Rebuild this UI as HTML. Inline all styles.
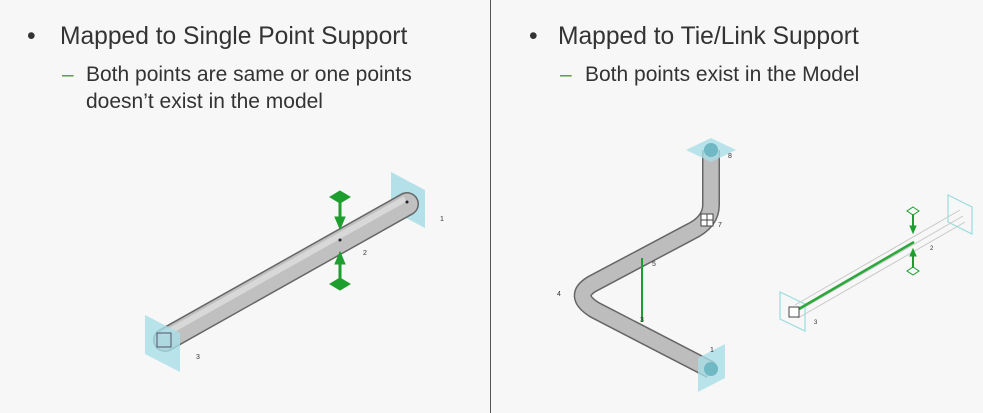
<!DOCTYPE html><html><head><style>
body{margin:0;width:983px;height:413px;background:#f7f7f7;overflow:hidden;font-family:"Liberation Sans",sans-serif;color:#333;position:relative}
.t{position:absolute;white-space:nowrap}
.h{font-size:24.6px}
.s{font-size:21px}
.d{color:#5a9a3a}
</style></head><body>
<div style="position:absolute;left:490px;top:0;width:1px;height:413px;background:#555"></div>
<div class="t h" style="left:27px;top:23px">•</div>
<div class="t h" style="left:60px;top:23px">Mapped to Single Point Support</div>
<div class="t s d" style="left:62px;top:63px">–</div>
<div class="t s" style="left:86px;top:63px">Both points are same or one points</div>
<div class="t s" style="left:86px;top:90px">doesn’t exist in the model</div>
<div class="t h" style="left:529px;top:23px">•</div>
<div class="t h" style="left:558px;top:23px">Mapped to Tie/Link Support</div>
<div class="t s d" style="left:560px;top:63px">–</div>
<div class="t s" style="left:585px;top:63px">Both points exist in the Model</div>
<svg width="983" height="413" style="position:absolute;left:0;top:0">
<polygon points="391,172 425,190 425,228 391,210" fill="#a8dde6" opacity="0.85"/>
<line x1="165" y1="340" x2="407" y2="204" stroke="#666" stroke-width="24" stroke-linecap="round"/>
<line x1="165" y1="340" x2="407" y2="204" stroke="#c0c0c0" stroke-width="21" stroke-linecap="round"/>
<line x1="163" y1="335" x2="405" y2="199" stroke="#d8d8d8" stroke-width="6"/>
<polygon points="145,315 180,333 180,372 145,354" fill="#a8dde6" opacity="0.8"/>
<rect x="157" y="333" width="14" height="14" fill="none" stroke="#556" stroke-width="1"/>
<circle cx="407" cy="202" r="1.5" fill="#222"/><circle cx="340" cy="240" r="1.5" fill="#222"/>
<g fill="#1e9e2e" stroke="#1e9e2e">
<polygon points="340,191 350,197 340,203 330,197"/><line x1="340" y1="200" x2="340" y2="220" stroke-width="3"/><polygon points="335,217 345,217 340,229"/>
<polygon points="340,278 350,284 340,290 330,284"/><line x1="340" y1="262" x2="340" y2="282" stroke-width="3"/><polygon points="335,264 345,264 340,252"/>
</g>
<g font-size="7" fill="#333"><text x="440" y="221">1</text><text x="363" y="255">2</text><text x="196" y="359">3</text></g>
<path d="M711,150 L711,205 Q711,222 690,232 L592,284 Q572,296 595,310 L711,370" fill="none" stroke="#666" stroke-width="18" stroke-linejoin="round"/>
<path d="M711,150 L711,205 Q711,222 690,232 L592,284 Q572,296 595,310 L711,370" fill="none" stroke="#bdbdbd" stroke-width="15" stroke-linejoin="round"/>
<polygon points="686,150 711,138 736,150 711,162" fill="#a8dde6" opacity="0.8"/>
<circle cx="711" cy="150" r="7" fill="#6fb8c4"/>
<polygon points="698,358 725,344 725,378 698,392" fill="#a8dde6" opacity="0.8"/>
<circle cx="711" cy="369" r="7" fill="#6fb8c4"/>
<rect x="701" y="214" width="12" height="12" fill="#fff" stroke="#444"/>
<line x1="707" y1="214" x2="707" y2="226" stroke="#444"/><line x1="701" y1="220" x2="713" y2="220" stroke="#444"/>
<line x1="642" y1="258" x2="642" y2="322" stroke="#1e9e2e" stroke-width="2"/>
<g font-size="7" fill="#333"><text x="728" y="158">8</text><text x="718" y="227">7</text><text x="652" y="266">5</text><text x="557" y="296">4</text><text x="640" y="322">3</text><text x="710" y="352">1</text></g>
<g fill="none" stroke="#c8c8c8" stroke-width="1">
<line x1="795" y1="305" x2="960" y2="210"/><line x1="798" y1="318" x2="965" y2="222"/><line x1="800" y1="310" x2="963" y2="216"/>
</g>
<polygon points="780,292 805,304 805,331 780,319" fill="none" stroke="#9dd" stroke-width="1.2"/>
<polygon points="948,195 972,207 972,234 948,222" fill="none" stroke="#9dd" stroke-width="1.2"/>
<line x1="797" y1="310" x2="914" y2="242" stroke="#2aa83a" stroke-width="2.5"/>
<rect x="789" y="307" width="10" height="10" fill="#fff" stroke="#444"/>
<g fill="#1e9e2e" stroke="#1e9e2e">
<polygon points="913,207 919,211 913,215 907,211" fill="none"/><line x1="913" y1="214" x2="913" y2="228" stroke-width="2"/><polygon points="910,226 916,226 913,233"/>
<polygon points="913,267 919,271 913,275 907,271" fill="none"/><line x1="913" y1="254" x2="913" y2="268" stroke-width="2"/><polygon points="910,256 916,256 913,249"/>
</g>
<g font-size="6" fill="#333"><text x="930" y="250">2</text><text x="814" y="324">3</text></g>
</svg>
</body></html>
